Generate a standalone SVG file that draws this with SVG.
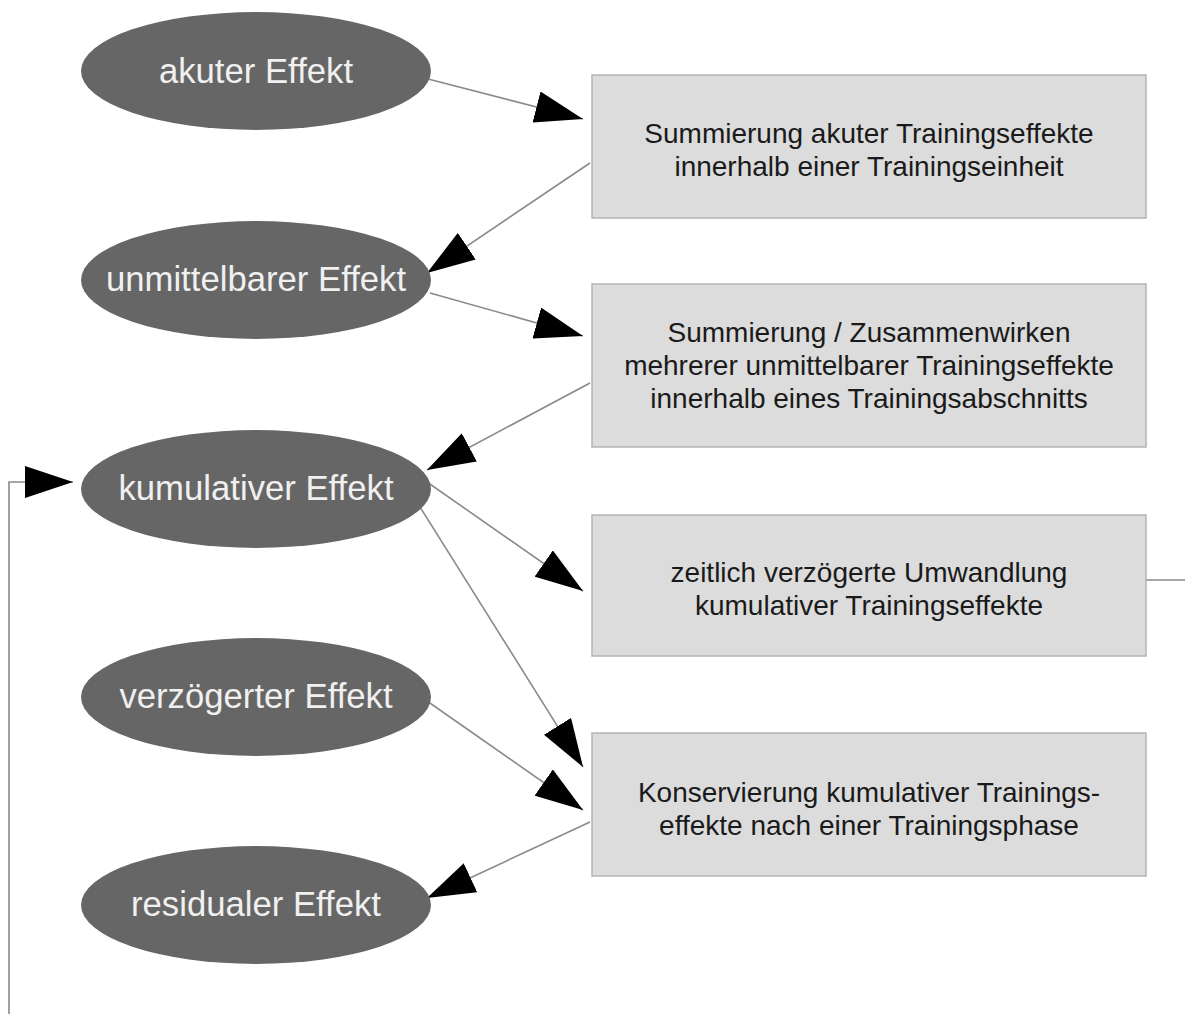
<svg xmlns="http://www.w3.org/2000/svg" width="1185" height="1014" viewBox="0 0 1185 1014">
<style>
.ell{fill:#666666;}
.etxt{font-family:"Liberation Sans",Arial,sans-serif;font-size:34.7px;fill:#f0f0f0;text-anchor:middle;}
.box{fill:#dcdcdc;stroke:#b4b4b4;stroke-width:1.5;}
.btxt{font-family:"Liberation Sans",Arial,sans-serif;font-size:28px;fill:#1a1a1a;text-anchor:middle;}
.con{fill:none;stroke:#8a8a8a;stroke-width:1.6;}
</style>
<defs>
<marker id="ah" markerUnits="userSpaceOnUse" markerWidth="48" markerHeight="32" refX="48" refY="16" orient="auto" viewBox="0 0 48 32">
<path d="M0,0 L48,16 L0,32 z" fill="#000"/>
</marker>
</defs>
<rect width="1185" height="1014" fill="#ffffff"/>
<g id="connectors">
<path class="con" d="M428,79 L583,119" marker-end="url(#ah)"/>
<path class="con" d="M590,163 L427,273" marker-end="url(#ah)"/>
<path class="con" d="M430,293 L583,336" marker-end="url(#ah)"/>
<path class="con" d="M590,383 L427,470" marker-end="url(#ah)"/>
<path class="con" d="M427,482 L583,591" marker-end="url(#ah)"/>
<path class="con" d="M420,507 L583,767" marker-end="url(#ah)"/>
<path class="con" d="M427,701 L583,810" marker-end="url(#ah)"/>
<path class="con" d="M590,822 L427,898" marker-end="url(#ah)"/>
<path class="con" d="M1146,580 L1185,580"/>
<path class="con" d="M9,1014 L9,482 L73,482" marker-end="url(#ah)"/>
</g>
<g id="n-akut"><ellipse class="ell" cx="256" cy="71" rx="175" ry="59"/><text class="etxt" x="256" y="83">akuter Effekt</text></g>
<g id="n-unmittelbar"><ellipse class="ell" cx="256" cy="280" rx="175" ry="59"/><text class="etxt" x="256" y="291">unmittelbarer Effekt</text></g>
<g id="n-kumulativ"><ellipse class="ell" cx="256" cy="489" rx="175" ry="59"/><text class="etxt" x="256" y="500">kumulativer Effekt</text></g>
<g id="n-verzoegert"><ellipse class="ell" cx="256" cy="697" rx="175" ry="59"/><text class="etxt" x="256" y="708">verzögerter Effekt</text></g>
<g id="n-residual"><ellipse class="ell" cx="256" cy="905" rx="175" ry="59"/><text class="etxt" x="256" y="916">residualer Effekt</text></g>
<g id="b1"><rect class="box" x="592" y="75" width="554" height="143"/><text class="btxt" x="869" y="143">Summierung akuter Trainingseffekte</text><text class="btxt" x="869" y="176">innerhalb einer Trainingseinheit</text></g>
<g id="b2"><rect class="box" x="592" y="284" width="554" height="163"/><text class="btxt" x="869" y="342">Summierung / Zusammenwirken</text><text class="btxt" x="869" y="375">mehrerer unmittelbarer Trainingseffekte</text><text class="btxt" x="869" y="408">innerhalb eines Trainingsabschnitts</text></g>
<g id="b3"><rect class="box" x="592" y="515" width="554" height="141"/><text class="btxt" x="869" y="582">zeitlich verzögerte Umwandlung</text><text class="btxt" x="869" y="615">kumulativer Trainingseffekte</text></g>
<g id="b4"><rect class="box" x="592" y="733" width="554" height="143"/><text class="btxt" x="869" y="802">Konservierung kumulativer Trainings-</text><text class="btxt" x="869" y="835">effekte nach einer Trainingsphase</text></g>
</svg>
